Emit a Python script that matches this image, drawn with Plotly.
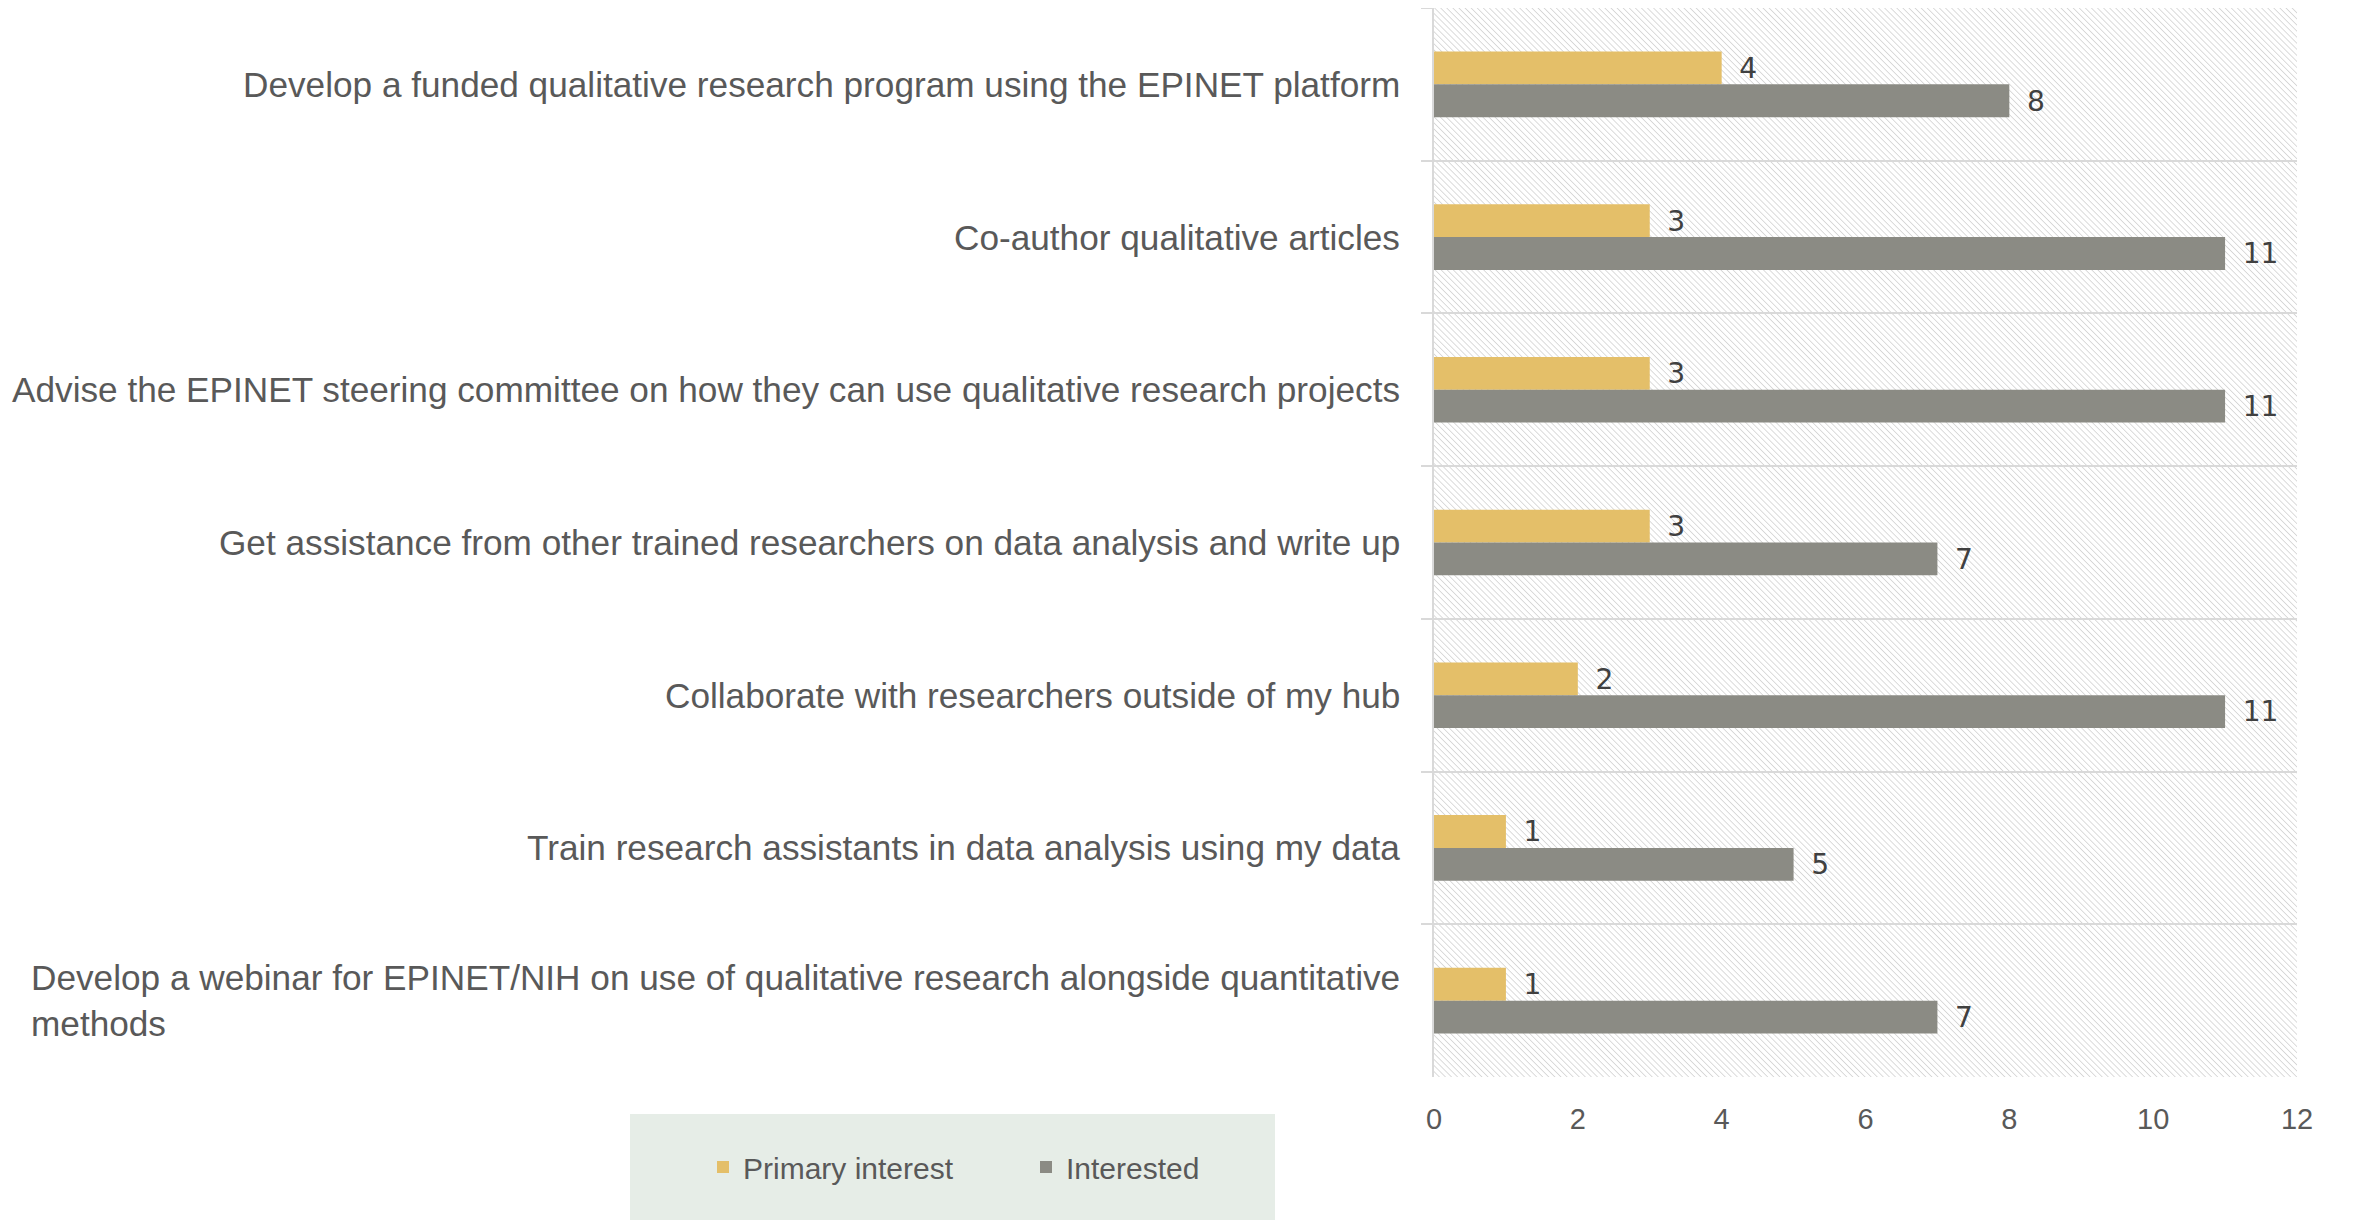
import base64
import plotly.graph_objects as go

categories = [
    "Develop a funded qualitative research program using the EPINET platform",
    "Co-author qualitative articles",
    "Advise the EPINET steering committee on how they can use qualitative research projects",
    "Get assistance from other trained researchers on data analysis and write up",
    "Collaborate with researchers outside of my hub",
    "Train research assistants in data analysis using my data",
    "Develop a webinar for EPINET/NIH on use of qualitative research alongside quantitative<br>methods",
]
primary_interest = [4, 3, 3, 3, 2, 1, 1]
interested = [8, 11, 11, 7, 11, 5, 7]
x_ticks = [0, 2, 4, 6, 8, 10, 12]

W, H = 2353, 1220
ML, MT = 1426, 0
PW, PH = 863, 1069
MR, MB = W - ML - PW, H - MT - PH

GOLD = "#E4BF69"
GRAY = "#8B8B84"
TXT = "#595959"
GRID = "#D9D9D9"
FONT = "Liberation Sans"

svg = (
    f"<svg xmlns='http://www.w3.org/2000/svg' width='{PW}' height='{PH}' viewBox='0 0 {PW} {PH}' preserveAspectRatio='none'>"
    "<defs><pattern id='p' width='4.3' height='4.3' patternUnits='userSpaceOnUse' patternTransform='rotate(-45)'>"
    "<line x1='0' y1='0' x2='0' y2='4.3' stroke='#C9C9C9' stroke-width='1.3'/></pattern></defs>"
    "<rect width='100%' height='100%' fill='url(#p)'/></svg>"
)
hatch_src = "data:image/svg+xml;base64," + base64.b64encode(svg.encode()).decode()

LABEL_FONT = dict(family="DejaVu Sans", size=30, color="#404040")

fig = go.Figure()
fig.add_trace(go.Bar(
    name="Primary interest", y=categories, x=primary_interest, orientation="h",
    marker=dict(color=GOLD, line=dict(width=0)),
    texttemplate="\u00a0\u2009%{x}", textposition="outside", cliponaxis=False,
    textfont=LABEL_FONT,
))
fig.add_trace(go.Bar(
    name="Interested", y=categories, x=interested, orientation="h",
    marker=dict(color=GRAY, line=dict(width=0)),
    texttemplate="\u00a0\u2009%{x}", textposition="outside", cliponaxis=False,
    textfont=LABEL_FONT,
))

for c in categories:
    fig.add_annotation(
        x=0, xref="paper", y=c, yref="y", text=c, showarrow=False,
        xanchor="right", align="left", xshift=-32,
        font=dict(family=FONT, size=35.2, color=TXT),
    )

# legend background box
fig.add_shape(
    type="rect", xref="paper", yref="paper",
    x0=(622 - ML) / PW, x1=(1267 - ML) / PW,
    y0=(MT + PH - 1212) / PH, y1=(MT + PH - 1106) / PH,
    fillcolor="#E6EDE7", line=dict(width=0), layer="below",
)

fig.add_layout_image(
    source=hatch_src, xref="paper", yref="paper", x=0, y=1, sizex=1, sizey=1,
    xanchor="left", yanchor="top", sizing="stretch", layer="below",
)

fig.update_layout(
    width=W, height=H, autosize=False,
    margin=dict(l=ML, r=MR, t=MT, b=MB, pad=0),
    paper_bgcolor="white", plot_bgcolor="rgba(0,0,0,0)",
    barmode="group", bargap=0.57, bargroupgap=0,
    font=dict(family=FONT, color=TXT),
    showlegend=True,
    legend=dict(
        orientation="h", x=(695 - ML) / PW, y=(MT + PH - 1159) / PH,
        xanchor="left", yanchor="middle", bgcolor="rgba(0,0,0,0)",
        font=dict(family=FONT, size=30, color=TXT),
        entrywidth=278, traceorder="normal",
    ),
    xaxis=dict(
        range=[0, 12], tickvals=x_ticks, ticktext=[str(v) for v in x_ticks],
        showgrid=False, zeroline=False, showline=False, ticks="",
        tickfont=dict(family=FONT, size=29, color=TXT), ticklabelstandoff=22,
        fixedrange=True,
    ),
    yaxis=dict(
        categoryorder="array", categoryarray=categories, autorange="reversed",
        tickson="boundaries", showgrid=True, gridcolor=GRID, gridwidth=2,
        showline=True, linecolor=GRID, linewidth=2,
        ticks="outside", ticklen=11, tickcolor=GRID, tickwidth=2,
        showticklabels=False, zeroline=False,
    ),
)

fig.write_html("out.html")
